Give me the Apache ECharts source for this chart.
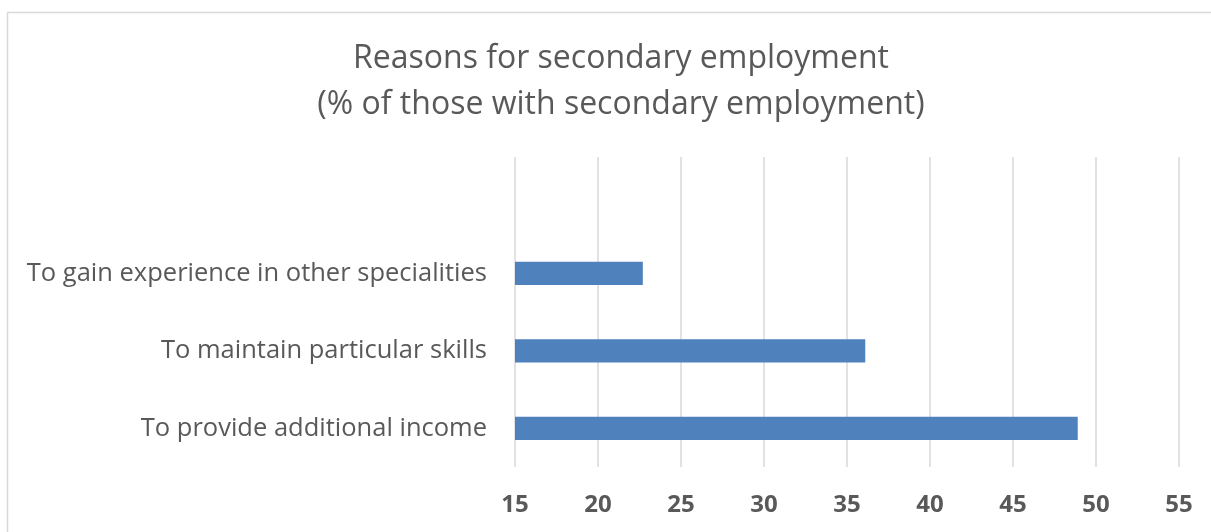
<!DOCTYPE html>
<html>
<head>
<meta charset="utf-8">
<script src="https://cdn.jsdelivr.net/npm/echarts@6/dist/echarts.min.js"></script>
<style>
  html, body { margin: 0; padding: 0; background: #ffffff; }
  #chart { width: 1211px; height: 532px; }
</style>
</head>
<body>
<div id="chart"></div>
<script>
// Reasons given by people who hold a second job (share, %)
const categories = [
  'To provide additional income',
  'To maintain particular skills',
  'To gain experience in other specialities',
  ''
];
const shares = [48.9, 36.1, 22.7, null];
const axisMin = 15;
const axisMax = 55;
const axisStep = 5;

const textColor = '#595959';
const gridColor = '#d9d9d9';

const chart = echarts.init(document.getElementById('chart'), null, { renderer: 'canvas' });

chart.setOption({
  backgroundColor: '#ffffff',
  animation: false,
  graphic: [{
    type: 'rect',
    shape: { x: 7.5, y: 12.5, width: 1400, height: 700 },
    style: { fill: 'none', stroke: gridColor, lineWidth: 1.5 },
    silent: true,
    z: -1
  }],
  title: {
    text: 'Reasons for secondary employment\n(% of those with secondary employment)',
    left: 616,
    textAlign: 'center',
    top: 31,
    textStyle: {
      fontFamily: 'Open Sans',
      fontWeight: 'normal',
      fontSize: 32,
      lineHeight: 46,
      color: textColor
    }
  },
  grid: {
    left: 515,
    right: 32,
    top: 157,
    bottom: 65,
    containLabel: false
  },
  xAxis: {
    type: 'value',
    min: axisMin,
    max: axisMax,
    interval: axisStep,
    axisLine: { show: false },
    axisTick: { show: false },
    splitLine: { show: true, lineStyle: { color: gridColor, width: 1.5 } },
    axisLabel: {
      margin: 26,
      fontFamily: 'Open Sans',
      fontWeight: 'bold',
      fontSize: 24,
      color: textColor
    }
  },
  yAxis: {
    type: 'category',
    data: categories,
    axisLine: { show: false },
    axisTick: { show: false },
    splitLine: { show: false },
    axisLabel: {
      margin: 28,
      fontFamily: 'Open Sans',
      fontSize: 25.5,
      color: textColor
    }
  },
  series: [{
    type: 'bar',
    data: shares,
    barWidth: '30%',
    itemStyle: { color: '#4f81bd' }
  }]
});
</script>
</body>
</html>
